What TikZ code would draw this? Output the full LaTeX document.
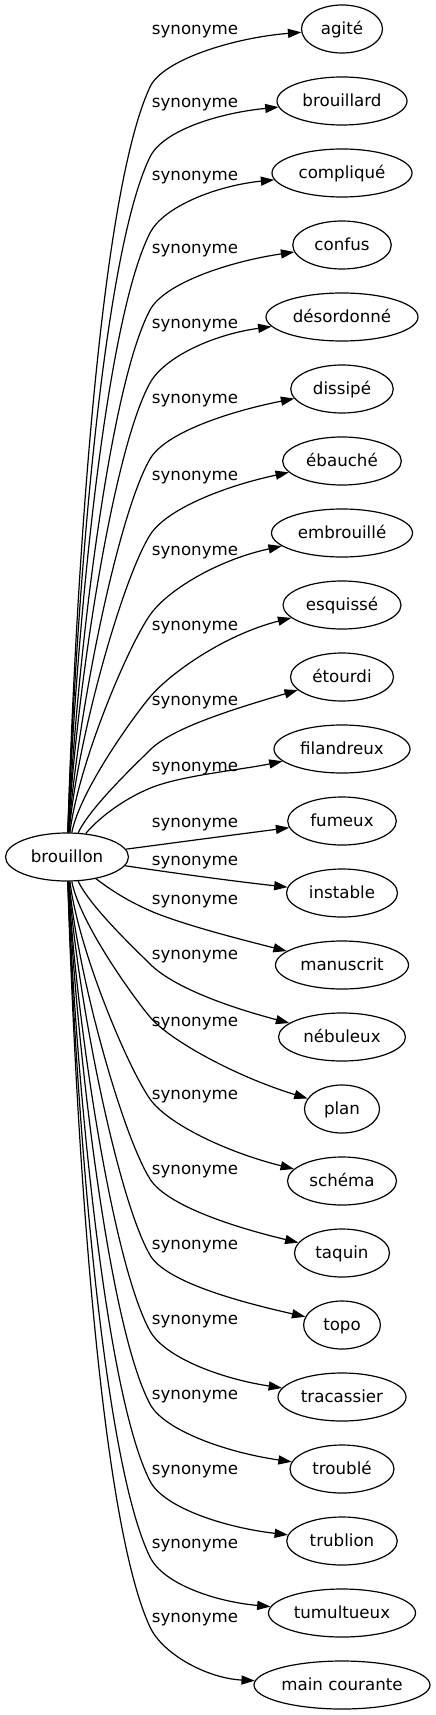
\documentclass[tikz,border=0pt]{standalone}
\usepackage{fontspec}
\setmainfont{DejaVu Sans}
\usetikzlibrary{shapes.geometric,arrows.meta}
\tikzset{
 tnode/.style={draw, ellipse, line width=0.9pt, inner sep=0pt, minimum height=36pt, text height=9pt, text depth=0.8pt},
 lbl/.style={inner sep=0pt, anchor=center},
 edgeline/.style={line width=0.9pt, -{Triangle[length=10pt,width=6.8pt]}},
}
% #1 target, #2 sign, #3 ty, #4 rx, #5 Qv, #6 theta, #7 m, #8 off, #9 c1x
\newcommand\synedge[9]{%
\pgfmathsetmacro\seL{0.15*(#5-24)/cos(#6)}%
\pgfmathsetmacro\seAy{857+#2*(24+0.31*(#5-24))}%
\pgfmathsetmacro\seBx{150-\seL*sin(#6)}%
\pgfmathsetmacro\seBy{857+#2*(#5-\seL*cos(#6))}%
\pgfmathsetmacro\seQy{857+#2*#5}%
\pgfmathsetmacro\seCx{150+30*sin(#6)}%
\pgfmathsetmacro\seCy{857+#2*(#5+30*cos(#6))}%
\pgfmathsetmacro\seTx{342-#4}%
\pgfmathsetmacro\seDx{150+0.55*(\seTx-150)}%
\pgfmathsetmacro\seDist{abs(#3-857)}%
\pgfmathsetmacro\seDy{857+#2*(\seDist-#8-#7*0.45*(\seTx-150))}%
\draw[edgeline] (src) .. controls (#9,\seAy) and (\seBx,\seBy) .. (150,\seQy) .. controls (\seCx,\seCy) and (\seDx,\seDy) .. (#1);
}
\begin{document}
\begin{tikzpicture}[x=0.75pt,y=-0.75pt,font=\fontsize{12.5}{15}\selectfont]
\useasboundingbox (0,0) rectangle (435,1715);
% nodes
\node[tnode, minimum width=0.75pt*123] (src) at (67,857) {brouillon};
\node[tnode, minimum width=0.75pt*81]    (t0)  at (342,29)   {agité};
\node[tnode, minimum width=0.75pt*130]   (t1)  at (342,101)  {brouillard};
\node[tnode, minimum width=0.75pt*140]   (t2)  at (342,173)  {compliqué};
\node[tnode, minimum width=0.75pt*98.5]  (t3)  at (342,245)  {confus};
\node[tnode, minimum width=0.75pt*152]   (t4)  at (342,317)  {désordonné};
\node[tnode, minimum width=0.75pt*102.5] (t5)  at (342,389)  {dissipé};
\node[tnode, minimum width=0.75pt*118.7] (t6)  at (342,461)  {ébauché};
\node[tnode, minimum width=0.75pt*141]   (t7)  at (342,533)  {embrouillé};
\node[tnode, minimum width=0.75pt*118]   (t8)  at (342,605)  {esquissé};
\node[tnode, minimum width=0.75pt*103]   (t9)  at (342,677)  {étourdi};
\node[tnode, minimum width=0.75pt*136]   (t10) at (342,749)  {filandreux};
\node[tnode, minimum width=0.75pt*108.6] (t11) at (342,821)  {fumeux};
\node[tnode, minimum width=0.75pt*111]   (t12) at (342,893)  {instable};
\node[tnode, minimum width=0.75pt*133]   (t13) at (342,965)  {manuscrit};
\node[tnode, minimum width=0.75pt*127]   (t14) at (342,1037) {nébuleux};
\node[tnode, minimum width=0.75pt*75]    (t15) at (342,1109) {plan};
\node[tnode, minimum width=0.75pt*109]   (t16) at (342,1181) {schéma};
\node[tnode, minimum width=0.75pt*95]    (t17) at (342,1253) {taquin};
\node[tnode, minimum width=0.75pt*76.8]  (t18) at (342,1325) {topo};
\node[tnode, minimum width=0.75pt*128]   (t19) at (342,1397) {tracassier};
\node[tnode, minimum width=0.75pt*104]   (t20) at (342,1469) {troublé};
\node[tnode, minimum width=0.75pt*110.5] (t21) at (342,1541) {trublion};
\node[tnode, minimum width=0.75pt*147]   (t22) at (342,1613) {tumultueux};
\node[tnode, minimum width=0.75pt*176]   (t23) at (342,1685) {main courante};
% labels
\node[lbl] (l0)  at (195,32)   {synonyme};
\node[lbl] (l1)  at (195,105)  {synonyme};
\node[lbl] (l2)  at (195,178)  {synonyme};
\node[lbl] (l3)  at (195,251)  {synonyme};
\node[lbl] (l4)  at (195,326)  {synonyme};
\node[lbl] (l5)  at (195,401)  {synonyme};
\node[lbl] (l6)  at (195,478)  {synonyme};
\node[lbl] (l7)  at (195,553)  {synonyme};
\node[lbl] (l8)  at (195,628)  {synonyme};
\node[lbl] (l9)  at (195,703)  {synonyme};
\node[lbl] (l10) at (195,769)  {synonyme};
\node[lbl] (l11) at (195,825)  {synonyme};
\node[lbl] (l12) at (195,863)  {synonyme};
\node[lbl] (l13) at (195,902)  {synonyme};
\node[lbl] (l14) at (195,957)  {synonyme};
\node[lbl] (l15) at (195,1024) {synonyme};
\node[lbl] (l16) at (195,1097) {synonyme};
\node[lbl] (l17) at (195,1172) {synonyme};
\node[lbl] (l18) at (195,1247) {synonyme};
\node[lbl] (l19) at (195,1322) {synonyme};
\node[lbl] (l20) at (195,1397) {synonyme};
\node[lbl] (l21) at (195,1472) {synonyme};
\node[lbl] (l22) at (195,1546) {synonyme};
\node[lbl] (l23) at (195,1620) {synonyme};
% upper edges
\synedge{t0}{-1}{29}{40.5}{770}{25}{0.10}{2}{75}
\synedge{t1}{-1}{101}{65}{700}{26}{0.12}{5}{75}
\synedge{t2}{-1}{173}{70}{624}{27}{0.12}{6}{75}
\synedge{t3}{-1}{245}{49.3}{547}{28}{0.15}{7}{76}
\synedge{t4}{-1}{317}{76}{474}{29}{0.18}{8}{76}
\synedge{t5}{-1}{389}{51.3}{398}{30}{0.22}{9}{77}
\synedge{t6}{-1}{461}{59.4}{322}{32}{0.26}{10}{77}
\synedge{t7}{-1}{533}{70.5}{242}{35}{0.26}{13}{78}
\synedge{t8}{-1}{605}{59}{160}{40}{0.27}{14}{80}
\synedge{t9}{-1}{677}{51.5}{107}{45}{0.33}{13}{90}
\draw[edgeline] (src) .. controls (95,822) and (120,800) .. (153,787) .. controls (185,775) and (240,770) .. (t10);
\draw[edgeline] (src) .. controls (180,842) and (240,834) .. (t11);
% lower edges
\draw[edgeline] (src) .. controls (180,874) and (240,882) .. (t12);
\draw[edgeline] (src) .. controls (115,893) and (130,902) .. (153,912) .. controls (185,925) and (235,938) .. (t13);
\synedge{t14}{1}{1037}{63.5}{107}{45}{0.33}{13}{90}
\synedge{t15}{1}{1109}{37.5}{160}{40}{0.27}{14}{80}
\synedge{t16}{1}{1181}{54.5}{242}{35}{0.26}{13}{78}
\synedge{t17}{1}{1253}{47.5}{322}{32}{0.26}{10}{77}
\synedge{t18}{1}{1325}{38.4}{398}{30}{0.22}{9}{77}
\synedge{t19}{1}{1397}{64}{474}{29}{0.18}{8}{76}
\synedge{t20}{1}{1469}{52}{547}{28}{0.15}{7}{76}
\synedge{t21}{1}{1541}{55.3}{624}{27}{0.12}{6}{75}
\synedge{t22}{1}{1613}{73.5}{700}{26}{0.12}{5}{75}
\synedge{t23}{1}{1685}{88}{770}{25}{0.10}{2}{75}
\end{tikzpicture}
\end{document}
